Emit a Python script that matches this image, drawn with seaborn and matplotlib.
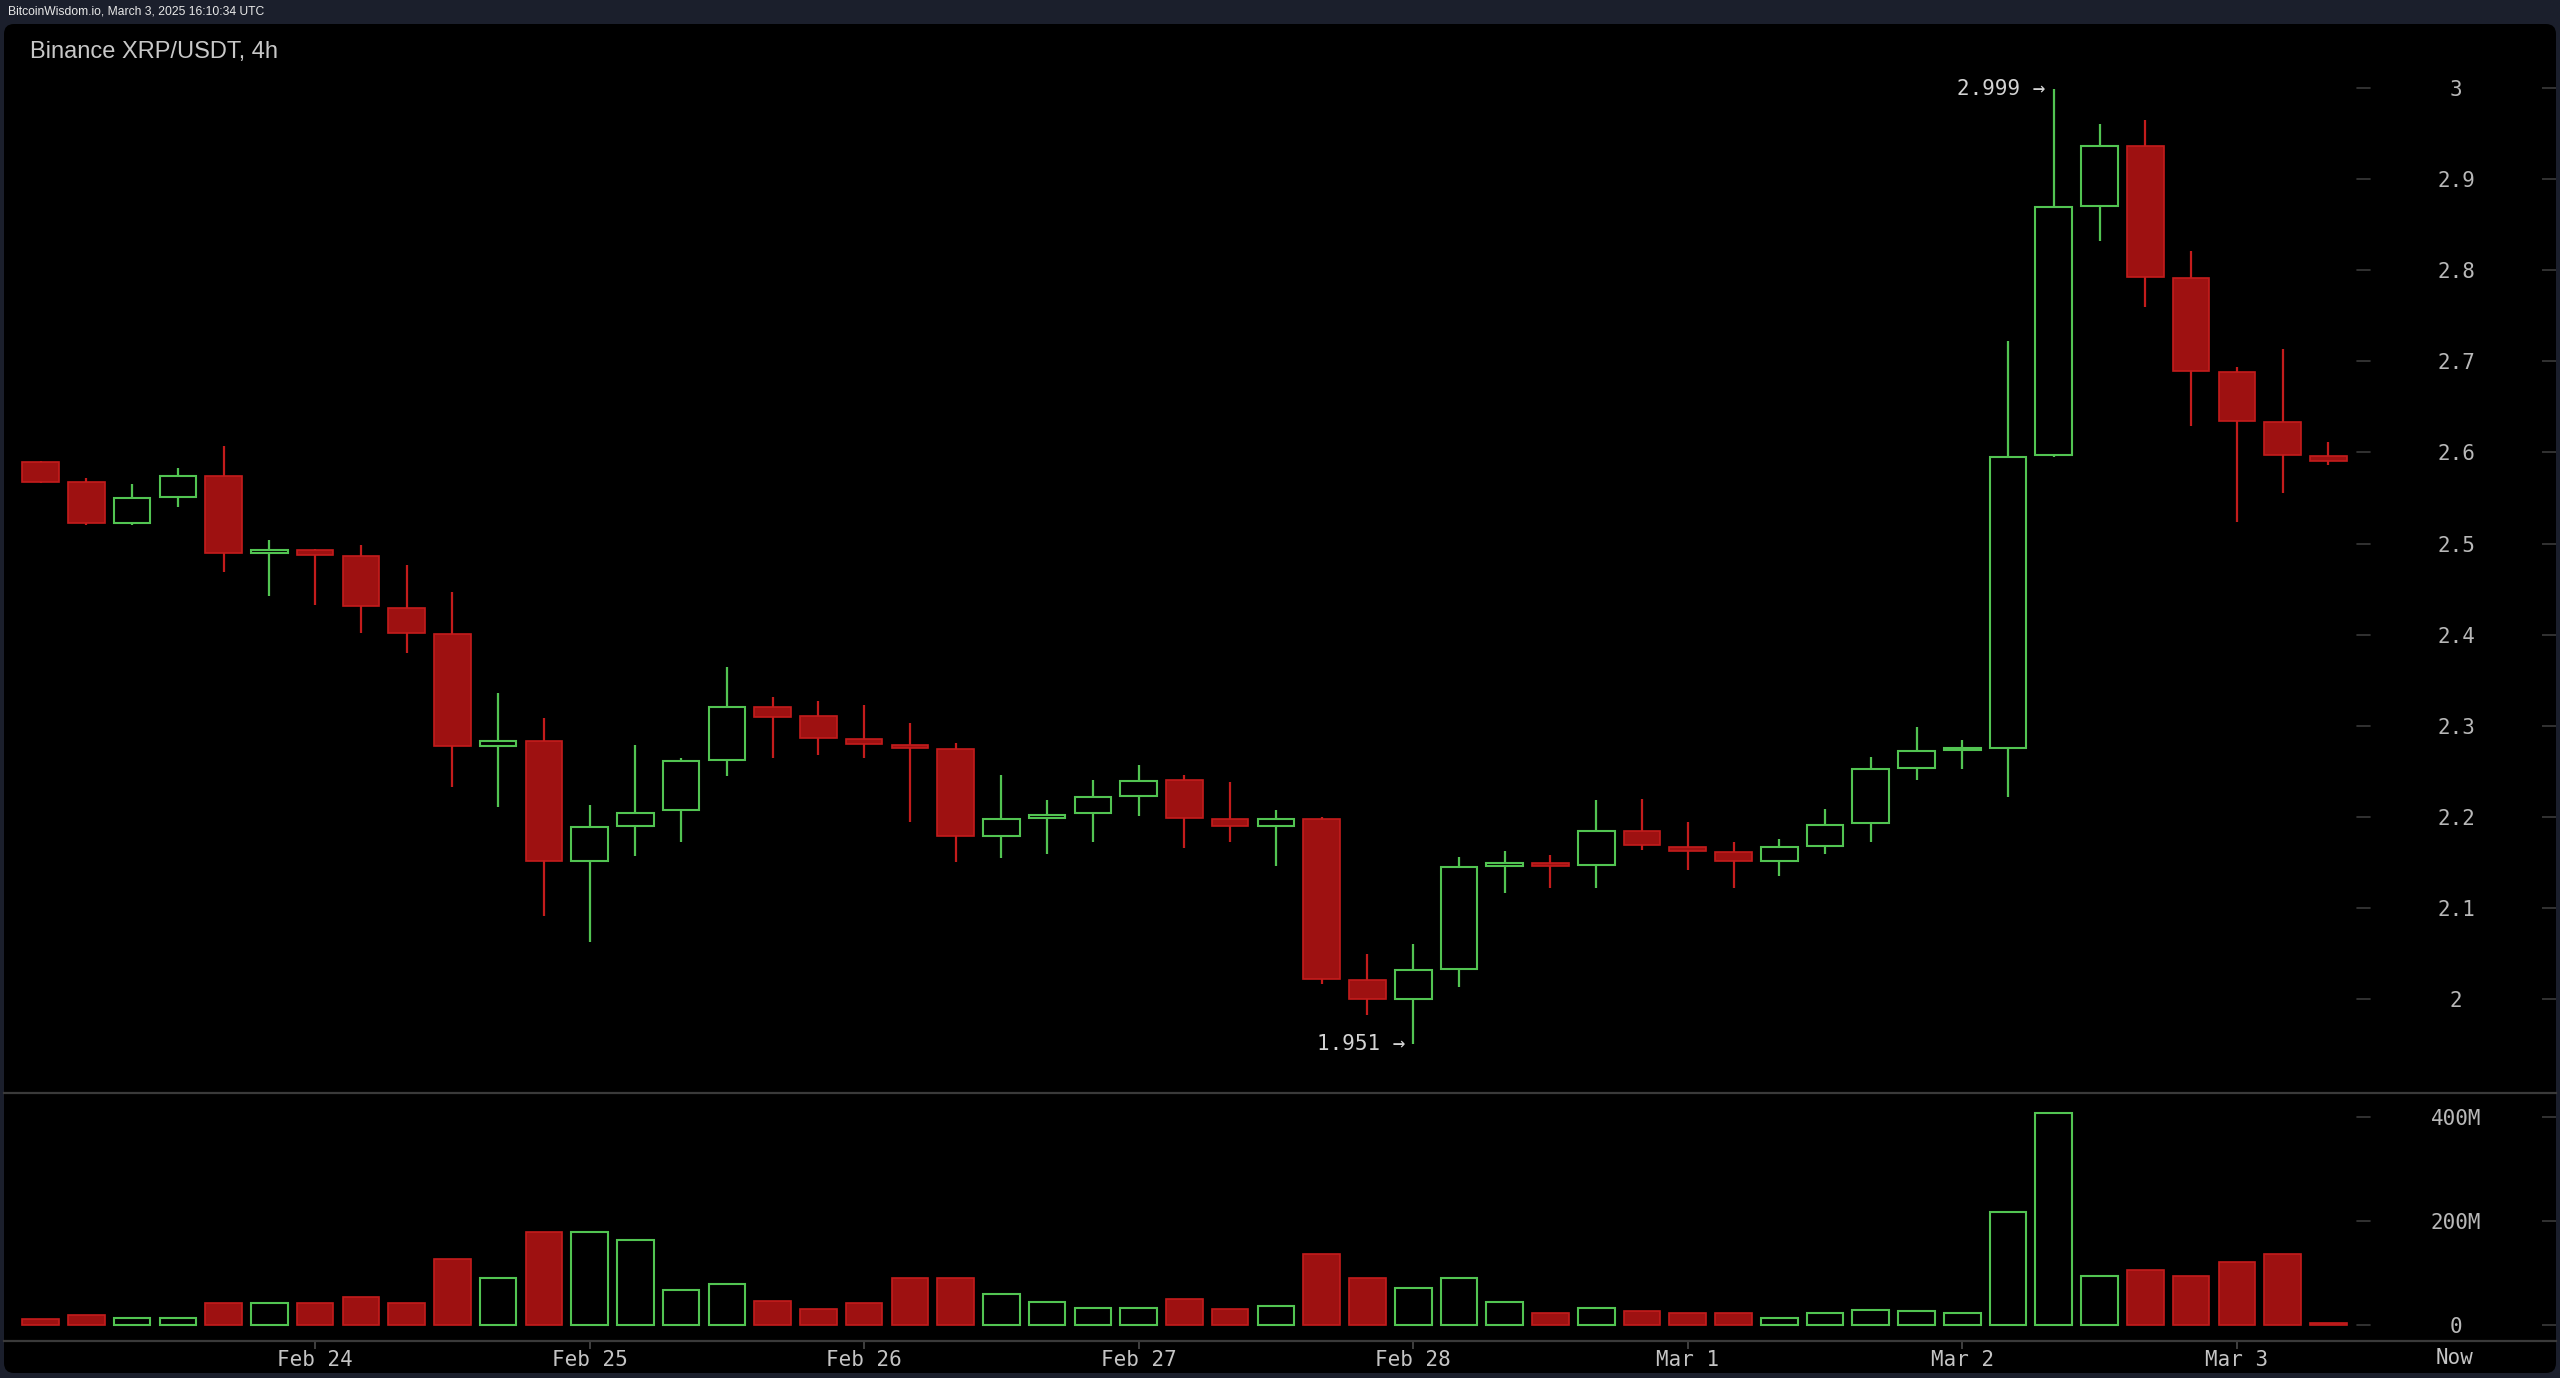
import numpy as np
import pandas as pd
import matplotlib
matplotlib.use('Agg')
import matplotlib.pyplot as plt
from matplotlib.patches import FancyBboxPatch
from matplotlib.transforms import IdentityTransform
import seaborn as sns

# Binance XRP/USDT 4h candles, Feb 23 00:00 -> Mar 3 08:00
opens = [2.589, 2.567, 2.522, 2.551, 2.574, 2.490, 2.493, 2.486, 2.429, 2.401,
         2.278, 2.283, 2.151, 2.190, 2.208, 2.262, 2.320, 2.311, 2.285, 2.279,
         2.274, 2.179, 2.199, 2.204, 2.223, 2.240, 2.198, 2.190, 2.198, 2.021,
         2.000, 2.033, 2.146, 2.148, 2.147, 2.184, 2.167, 2.161, 2.151, 2.168,
         2.193, 2.254, 2.273, 2.276, 2.597, 2.871, 2.936, 2.792, 2.688, 2.633,
         2.596]
highs = [2.591, 2.572, 2.565, 2.583, 2.607, 2.504, 2.494, 2.498, 2.476, 2.447,
         2.336, 2.309, 2.213, 2.279, 2.264, 2.364, 2.331, 2.327, 2.323, 2.303,
         2.281, 2.246, 2.218, 2.240, 2.257, 2.246, 2.238, 2.207, 2.200, 2.049,
         2.060, 2.156, 2.163, 2.158, 2.218, 2.220, 2.194, 2.172, 2.176, 2.209,
         2.266, 2.299, 2.284, 2.722, 2.999, 2.961, 2.965, 2.821, 2.694, 2.714,
         2.611]
lows = [2.566, 2.520, 2.520, 2.540, 2.469, 2.442, 2.433, 2.402, 2.380, 2.233,
        2.211, 2.091, 2.063, 2.157, 2.172, 2.245, 2.264, 2.268, 2.264, 2.194,
        2.150, 2.155, 2.159, 2.172, 2.201, 2.166, 2.172, 2.146, 2.017, 1.982,
        1.951, 2.013, 2.116, 2.122, 2.122, 2.164, 2.142, 2.122, 2.135, 2.159,
        2.172, 2.240, 2.253, 2.222, 2.595, 2.832, 2.760, 2.629, 2.524, 2.555,
        2.586]
closes = [2.568, 2.522, 2.550, 2.574, 2.490, 2.493, 2.487, 2.431, 2.402, 2.278,
          2.283, 2.151, 2.189, 2.204, 2.261, 2.320, 2.310, 2.286, 2.280, 2.275,
          2.179, 2.198, 2.202, 2.222, 2.239, 2.199, 2.190, 2.198, 2.022, 2.000,
          2.032, 2.145, 2.148, 2.146, 2.184, 2.169, 2.162, 2.151, 2.167, 2.191,
          2.253, 2.272, 2.275, 2.595, 2.869, 2.936, 2.793, 2.689, 2.635, 2.597,
          2.591]
volumes_m = [10.9, 18.6, 14.1, 14.1, 41.7, 41.7, 41.7, 53.2, 41.7, 126,
             91, 179.5, 179, 163.5, 68, 79.5, 45.5, 30, 41.7, 91,
             91, 60, 45, 33.3, 33.3, 49.4, 30, 37.2, 137, 91,
             72, 91, 45, 22.4, 33.3, 26.3, 22.4, 22.4, 14.1, 22.4,
             29.5, 26.3, 22.4, 216.7, 408, 95, 106, 95, 122, 137,
             3.2]

day_ticks = [6, 12, 18, 24, 30, 36, 42, 48]
day_labels = ['Feb 24', 'Feb 25', 'Feb 26', 'Feb 27', 'Feb 28', 'Mar 1', 'Mar 2', 'Mar 3']
price_ticks = [2.0, 2.1, 2.2, 2.3, 2.4, 2.5, 2.6, 2.7, 2.8, 2.9, 3.0]
price_tick_labels = ['2', '2.1', '2.2', '2.3', '2.4', '2.5', '2.6', '2.7', '2.8', '2.9', '3']
volume_ticks = [0, 200, 400]
volume_tick_labels = ['0', '200M', '400M']

BG = '#1b1f2c'
RED = '#9e1111'
RED_EDGE = '#c41c1c'
GREEN = '#52c452'
AXIS_LINE = '#3a3a3a'
LABEL = '#b8b8b8'
MONO = 'DejaVu Sans Mono'

W, H = 2560, 1378


def fx(px):
    return px / W


def fy(py):
    return 1 - py / H


def style_value_axis(ax, ticks, labels):
    """Right hand value labels, centred in the label column."""
    ax.set_yticks(ticks, labels)
    ax.yaxis.tick_right()
    ax.tick_params(axis='y', direction='in', length=10, width=1.2, color=AXIS_LINE,
                   pad=-72, labelsize=15, labelcolor=LABEL)
    for t in ax.get_yticklabels():
        t.set_horizontalalignment('center')
        t.set_fontfamily(MONO)
    for t in ticks:
        ax.axhline(t, 0.922, 0.927, color=AXIS_LINE, lw=1.2)
    for side in ['top', 'left', 'right']:
        ax.spines[side].set_visible(False)
    ax.spines['bottom'].set_color(AXIS_LINE)
    ax.spines['bottom'].set_linewidth(1.6)
    ax.set_xlabel('')
    ax.set_ylabel('')


sns.set_theme(style='dark', rc={'axes.facecolor': 'none', 'figure.facecolor': BG})

fig = plt.figure(figsize=(25.6, 13.78), dpi=100, facecolor=BG)

panel = FancyBboxPatch((4, 5), 2552, 1349, boxstyle='round,pad=0,rounding_size=10',
                       facecolor='black', edgecolor='none', transform=IdentityTransform(), zorder=-5)
fig.add_artist(panel)

ax_p = fig.add_axes([fx(4), fy(1093), fx(2552), (1093 - 24) / H])
ax_v = fig.add_axes([fx(4), fy(1341), fx(2552), (1341 - 1093) / H], sharex=ax_p)

# candles
idx = np.arange(len(opens))
o = np.array(opens)
h = np.array(highs)
l = np.array(lows)
c = np.array(closes)
up = c >= o
body_lo = np.minimum(o, c)
body_hi = np.maximum(o, c)
body_h = np.maximum(body_hi - body_lo, 0.003)
wick_colors = np.where(up, GREEN, RED_EDGE)

ax_p.vlines(idx, body_hi, h, colors=wick_colors, lw=1.6)
ax_p.vlines(idx, l, body_lo, colors=wick_colors, lw=1.6)
ax_p.bar(idx[up], body_h[up], bottom=body_lo[up], width=0.8,
         facecolor='none', edgecolor=GREEN, linewidth=1.5)
ax_p.bar(idx[~up], body_h[~up], bottom=body_lo[~up], width=0.8,
         color=RED, edgecolor=RED_EDGE, linewidth=1.2)

i_hi = int(np.argmax(h))
i_lo = int(np.argmin(l))
for i, val in [(i_hi, h[i_hi]), (i_lo, l[i_lo])]:
    ax_p.annotate(f'{val:.3f} →', xy=(i, val), xytext=(-8, 0), textcoords='offset pixels',
                  ha='right', va='center', fontsize=15, color='#d4d4d4', family=MONO)

ax_p.set_ylim(1.8968, 3.0703)
style_value_axis(ax_p, price_ticks, price_tick_labels)
ax_p.tick_params(axis='x', bottom=False, labelbottom=False)

# volume
vol_df = pd.DataFrame({'idx': idx, 'vol': volumes_m, 'up': up})
sns.barplot(data=vol_df[~vol_df['up']], x='idx', y='vol', native_scale=True, color=RED,
            saturation=1, edgecolor=RED_EDGE, linewidth=1.2, errorbar=None, ax=ax_v)
sns.barplot(data=vol_df[vol_df['up']], x='idx', y='vol', native_scale=True, color=GREEN,
            fill=False, linewidth=1.5, errorbar=None, ax=ax_v)

ax_v.set_ylim(-30.8, 446.2)
style_value_axis(ax_v, volume_ticks, volume_tick_labels)
ax_v.set_xticks(day_ticks, day_labels)
ax_v.tick_params(axis='x', bottom=True, direction='out', length=6, width=1.2, color='#4a4a4a',
                 pad=0.7, labelsize=15, labelcolor='#c4c4c4')
for t in ax_v.get_xticklabels():
    t.set_fontfamily(MONO)
ax_v.annotate('Now', xy=(52.75, 0), xycoords=('data', 'axes fraction'), xytext=(0, -7),
              textcoords='offset pixels', ha='center', va='top', fontsize=15,
              color='#c4c4c4', family=MONO)
ax_v.set_xlim(-0.799, 54.976)

fig.text(fx(30), fy(52), 'Binance XRP/USDT, 4h', fontsize=17, color='#c8c8c8',
         family='Liberation Sans', va='center', ha='left')
fig.text(fx(8), fy(12), 'BitcoinWisdom.io, March 3, 2025 16:10:34 UTC', fontsize=8.7,
         color='#e8e8e8', family='Liberation Sans', va='center', ha='left')

fig.savefig('out.png', dpi=100, facecolor=BG)
